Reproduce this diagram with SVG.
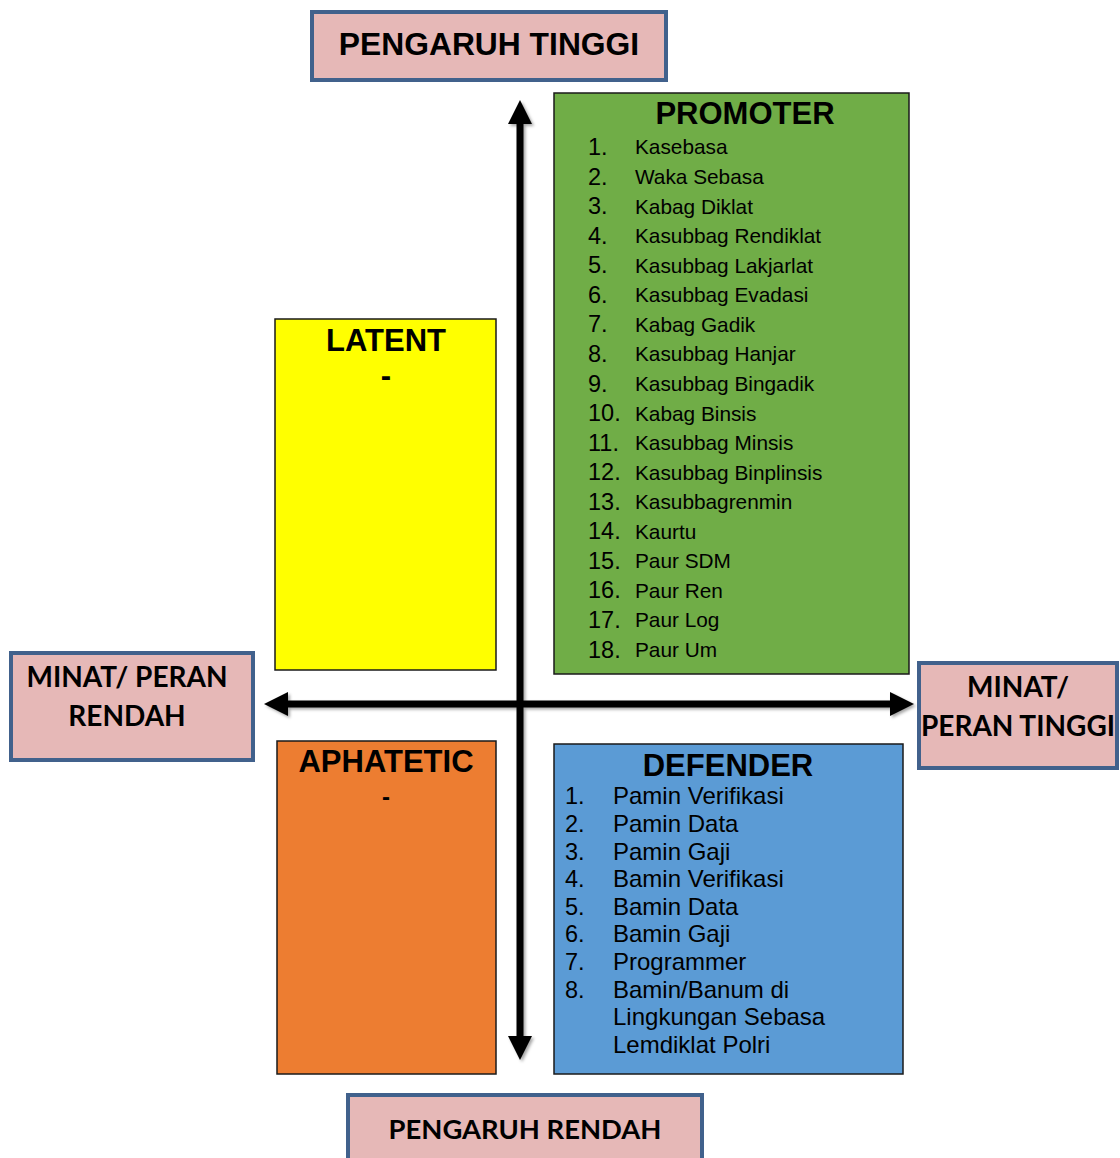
<svg xmlns="http://www.w3.org/2000/svg" width="1120" height="1158" viewBox="0 0 1120 1158">
<style>
.lbl{fill:#E6B8B7;stroke:#41618C;stroke-width:4}
.lt{font-family:Lato,"Liberation Sans",sans-serif;font-weight:bold;font-size:28px;fill:#000;text-anchor:middle}
.quad{stroke:#1a1a1a;stroke-width:1.5}
.ttl{font-family:"Liberation Sans",Arial,sans-serif;font-weight:bold;font-size:31px;fill:#000;text-anchor:middle}
.num{font-family:"Liberation Sans",Arial,sans-serif;font-size:23.5px;fill:#000}
.itm{font-family:"Liberation Sans",Arial,sans-serif;font-size:20.8px;fill:#000}
.dnum{font-family:"Liberation Sans",Arial,sans-serif;font-size:23.5px;fill:#000}
.ditm{font-family:"Liberation Sans",Arial,sans-serif;font-size:24px;fill:#000}
.ax{stroke:#000;stroke-width:7;fill:none}
</style>
<defs>
<filter id="sh" x="-10%" y="-10%" width="120%" height="120%">
<feDropShadow dx="2" dy="2" stdDeviation="1.5" flood-color="#000" flood-opacity="0.35"/>
</filter>
</defs>

<g id="connectors" filter="url(#sh)">
<line class="ax" x1="520" y1="120" x2="520" y2="1040"/>
<polygon points="520,100 508,124 532,124" fill="#000"/>
<polygon points="520,1060 508,1036 532,1036" fill="#000"/>
<line class="ax" x1="285" y1="704" x2="893" y2="704"/>
<polygon points="264,704 288,692 288,716" fill="#000"/>
<polygon points="914,704 890,692 890,716" fill="#000"/>
</g>

<g id="pengaruh-tinggi">
<rect class="lbl" x="312" y="12" width="354" height="68"/>
<text class="ttl" x="489" y="55" style="font-size:31.8px">PENGARUH TINGGI</text>
</g>

<g id="promoter">
<rect class="quad" x="554" y="93" width="355" height="581" fill="#70AD47"/>
<text class="ttl" x="745" y="124">PROMOTER</text>
<g>
<text class="num" x="588" y="155">1.</text><text class="itm" x="635" y="154">Kasebasa</text>
<text class="num" x="588" y="185">2.</text><text class="itm" x="635" y="184">Waka Sebasa</text>
<text class="num" x="588" y="214">3.</text><text class="itm" x="635" y="214">Kabag Diklat</text>
<text class="num" x="588" y="244">4.</text><text class="itm" x="635" y="243">Kasubbag Rendiklat</text>
<text class="num" x="588" y="273">5.</text><text class="itm" x="635" y="273">Kasubbag Lakjarlat</text>
<text class="num" x="588" y="303">6.</text><text class="itm" x="635" y="302">Kasubbag Evadasi</text>
<text class="num" x="588" y="332">7.</text><text class="itm" x="635" y="332">Kabag Gadik</text>
<text class="num" x="588" y="362">8.</text><text class="itm" x="635" y="361">Kasubbag Hanjar</text>
<text class="num" x="588" y="392">9.</text><text class="itm" x="635" y="391">Kasubbag Bingadik</text>
<text class="num" x="588" y="421">10.</text><text class="itm" x="635" y="421">Kabag Binsis</text>
<text class="num" x="588" y="451">11.</text><text class="itm" x="635" y="450">Kasubbag Minsis</text>
<text class="num" x="588" y="480">12.</text><text class="itm" x="635" y="480">Kasubbag Binplinsis</text>
<text class="num" x="588" y="510">13.</text><text class="itm" x="635" y="509">Kasubbagrenmin</text>
<text class="num" x="588" y="539">14.</text><text class="itm" x="635" y="539">Kaurtu</text>
<text class="num" x="588" y="569">15.</text><text class="itm" x="635" y="568">Paur SDM</text>
<text class="num" x="588" y="598">16.</text><text class="itm" x="635" y="598">Paur Ren</text>
<text class="num" x="588" y="628">17.</text><text class="itm" x="635" y="627">Paur Log</text>
<text class="num" x="588" y="658">18.</text><text class="itm" x="635" y="657">Paur Um</text>
</g>
</g>

<g id="latent">
<rect class="quad" x="275" y="319" width="221" height="351" fill="#FFFF00"/>
<text class="ttl" x="386" y="351">LATENT</text>
<text class="ttl" x="386" y="386">-</text>
</g>

<g id="aphatetic">
<rect class="quad" x="277" y="741" width="219" height="333" fill="#ED7D31"/>
<text class="ttl" x="386" y="772">APHATETIC</text>
<text class="ttl" x="386" y="805" style="font-size:24px">-</text>
</g>

<g id="defender">
<rect class="quad" x="554" y="744" width="349" height="330" fill="#5B9BD5"/>
<text class="ttl" x="728" y="776">DEFENDER</text>
<text class="dnum" x="565" y="804">1.</text><text class="ditm" x="613" y="804">Pamin Verifikasi</text>
<text class="dnum" x="565" y="832">2.</text><text class="ditm" x="613" y="832">Pamin Data</text>
<text class="dnum" x="565" y="860">3.</text><text class="ditm" x="613" y="860">Pamin Gaji</text>
<text class="dnum" x="565" y="887">4.</text><text class="ditm" x="613" y="887">Bamin Verifikasi</text>
<text class="dnum" x="565" y="915">5.</text><text class="ditm" x="613" y="915">Bamin Data</text>
<text class="dnum" x="565" y="942">6.</text><text class="ditm" x="613" y="942">Bamin Gaji</text>
<text class="dnum" x="565" y="970">7.</text><text class="ditm" x="613" y="970">Programmer</text>
<text class="dnum" x="565" y="998">8.</text><text class="ditm" x="613" y="998">Bamin/Banum di</text>
<text class="ditm" x="613" y="1025">Lingkungan Sebasa</text>
<text class="ditm" x="613" y="1053">Lemdiklat Polri</text>
</g>

<g id="minat-rendah">
<rect class="lbl" x="11" y="653" width="242" height="107"/>
<text class="lt" x="127" y="687">MINAT/ PERAN</text>
<text class="lt" x="127" y="726">RENDAH</text>
</g>

<g id="minat-tinggi">
<rect class="lbl" x="919" y="663" width="198" height="105"/>
<text class="lt" x="1018" y="697">MINAT/</text>
<text class="lt" x="1018" y="736">PERAN TINGGI</text>
</g>

<g id="pengaruh-rendah">
<rect class="lbl" x="348" y="1095" width="354" height="70"/>
<text class="lt" x="525" y="1139" style="font-size:27.4px">PENGARUH RENDAH</text>
</g>
</svg>
